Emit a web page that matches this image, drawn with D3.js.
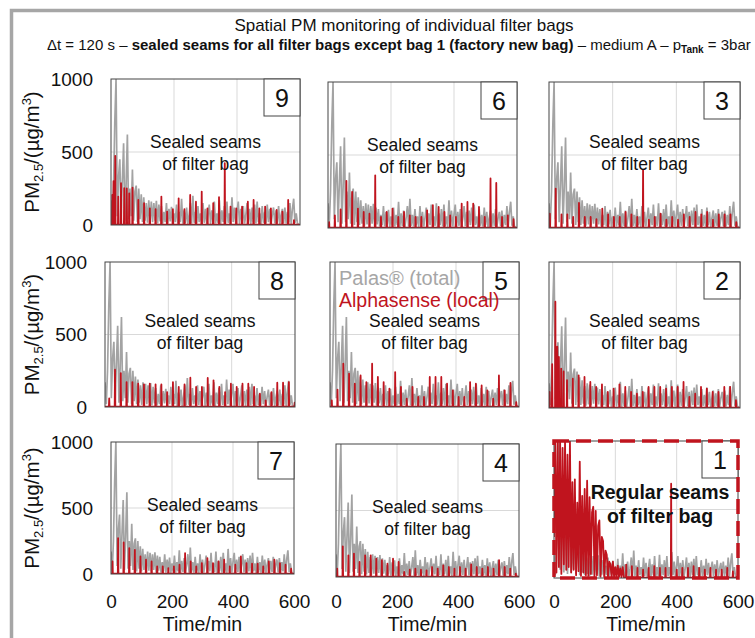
<!DOCTYPE html>
<html lang="en">
<head>
<meta charset="utf-8">
<title>Spatial PM monitoring of individual filter bags</title>
<script src="https://cdn.jsdelivr.net/npm/d3@7"></script>
<style>
  body { margin: 0; background: #fff; }
  svg { font-family: "Liberation Sans", Arial, sans-serif; }
</style>
</head>
<body>
<script>

// Palas (total) PM2.5 in µg/m³, one value every 4 min from t = 0 (same sensor for all panels)
var palasStep = 4;
var palas = [
  170, 20, 250, 700, 1000, 60, 330, 450, 40, 300,
  560, 30, 280, 620, 40, 250, 60, 380, 30, 230,
  270, 20, 250, 40, 210, 20, 190, 30, 150, 15,
  170, 25, 160, 20, 150, 30, 165, 10, 140, 25,
  130, 10, 90, 20, 150, 10, 110, 25, 125, 8,
  80, 20, 140, 10, 90, 20, 180, 8, 100, 15,
  120, 8, 70, 150, 10, 200, 15, 90, 10, 130,
  20, 80, 8, 150, 15, 110, 10, 70, 140, 8,
  100, 20, 160, 10, 80, 15, 170, 8, 100, 20,
  130, 10, 160, 15, 80, 8, 190, 20, 120, 10,
  90, 160, 8, 110, 15, 130, 10, 70, 150, 12,
  110, 8, 120, 20, 140, 10, 160, 20, 80, 8,
  130, 15, 90, 10, 140, 20, 110, 8, 70, 120,
  10, 100, 15, 130, 8, 70, 110, 12, 120, 10,
  90, 20, 150, 8, 110, 180, 15, 80, 10, 5
];

// panels, row by row, and the bag each one shows
var bags = [9, 6, 3, 8, 5, 2, 7, 4, 1];

// Alphasense (local): pulse peaks of each bag, one pulse every 18.3 min
var pulsePeriod = 18.3;
var firstPulse = [13.5, 3.5, 2.7, 13.3, 5.6, 1.7, 5, 4, 235.6];
var peaks9 = [474, 286, 250, 256, 172, 149, 114, 108, 195, 92, 108, 183, 108, 206, 160, 229, 114, 149, 190, 423, 126, 114, 126, 160, 172, 114, 126, 114, 103, 92, 172, 34];
var peaks6 = [40, 87, 128, 323, 247, 133, 110, 98, 361, 76, 110, 133, 76, 110, 87, 76, 76, 121, 156, 144, 110, 87, 76, 167, 178, 167, 144, 76, 339, 309, 76, 87, 60];
var peaks3 = [98, 270, 94, 94, 76, 172, 76, 76, 60, 133, 94, 76, 76, 110, 94, 76, 400, 57, 76, 98, 57, 76, 57, 94, 76, 110, 94, 110, 57, 94, 94, 94, 40];
var peaks8 = [60, 257, 234, 172, 172, 161, 156, 161, 156, 156, 103, 172, 138, 156, 202, 138, 138, 200, 184, 138, 103, 161, 138, 161, 161, 138, 92, 46, 103, 168, 168, 172, 30];
var peaks5 = [46, 120, 299, 230, 161, 218, 172, 299, 207, 172, 126, 241, 138, 57, 138, 69, 69, 207, 207, 207, 161, 115, 69, 69, 172, 161, 149, 115, 57, 218, 115, 166, 34];
var peaks2 = [110, 728, 270, 190, 201, 224, 213, 178, 144, 162, 110, 133, 162, 144, 110, 98, 110, 144, 144, 144, 133, 144, 144, 178, 76, 98, 144, 133, 110, 110, 144, 144, 53];
var peaks7 = [95, 271, 239, 196, 183, 133, 108, 95, 58, 58, 45, 58, 70, 158, 95, 58, 83, 121, 83, 95, 108, 58, 70, 133, 83, 78, 78, 58, 95, 108, 83, 70, 40];
var peaks4 = [63, 231, 163, 176, 113, 163, 163, 138, 126, 100, 138, 113, 38, 55, 63, 55, 50, 75, 63, 88, 75, 63, 75, 63, 95, 75, 63, 75, 63, 126, 75, 63, 25];
var peaks1 = [98, 86, 74, 61, 74, 86, 74, 74, 688, 61, 74, 74, 86, 74, 61, 74, 61, 61, 74, 49];

// extra early peaks seen between the regular pulses, [min, µg/m³]
var extra9 = [[4, 206], [8, 300], [23, 195], [42, 252], [58, 217]];
var extra2 = [[10, 300], [26, 420], [31, 350], [46, 250]];

// bag 1 (regular seams): dense first part, one value every 4 min from t = 0
var bag1Early = [
  300, 1000, 40, 1000, 80, 1000, 30, 950, 100, 1000,
  60, 900, 80, 1000, 40, 700, 60, 720, 20, 550,
  50, 850, 15, 600, 40, 650, 20, 710, 15, 590,
  30, 480, 520, 10, 490, 20, 380, 420, 10, 300,
  270, 8, 200, 170, 8, 120, 100, 5, 120, 10,
  80, 5, 90, 8, 70, 5, 80, 5
];

var peaksByBag = { 9: peaks9, 6: peaks6, 3: peaks3, 8: peaks8, 5: peaks5, 2: peaks2, 7: peaks7, 4: peaks4, 1: peaks1 };
var extraByBag = { 9: extra9, 2: extra2 };

var xTicks = [0, 200, 400, 600];
var yTicks = [0, 500, 1000];
var xGrid = [200, 400];
var yGrid = [500];

var grey = "#a3a3a3", red = "#c0141e";

// panel boxes [left, right, top, bottom]
var panelBox = [
  [111, 300, 79, 225], [328, 517, 82, 228], [549, 740, 82, 228],
  [105, 295, 262, 407], [330, 519, 262, 407], [549, 740, 262, 408],
  [111, 294, 442, 574], [336, 519, 444, 577], [554, 738, 441, 578]
];

var svg = d3.select("body").append("svg")
  .attr("width", 755)
  .attr("height", 638);

svg.append("rect")
  .attr("x", 11.5).attr("y", 10.5)
  .attr("width", 800).attr("height", 700)
  .attr("fill", "none")
  .attr("stroke", "#a6a6a6")
  .attr("stroke-width", 3.5);

svg.append("text")
  .attr("x", 404).attr("y", 31)
  .attr("text-anchor", "middle")
  .attr("font-size", "17px")
  .attr("fill", "#111")
  .text("Spatial PM monitoring of individual filter bags");

var sub = svg.append("text")
  .attr("x", 47).attr("y", 50)
  .attr("font-size", "15px")
  .attr("fill", "#111");
sub.append("tspan").text("\u0394t = 120 s \u2013 ");
sub.append("tspan").attr("font-weight", "bold").text("sealed seams for all filter bags except bag 1 (factory new bag)");
sub.append("tspan").text(" \u2013 medium A \u2013 p");
sub.append("tspan").attr("font-size", "10px").attr("font-weight", "bold").attr("dy", 3).text("Tank");
sub.append("tspan").attr("dy", -3).text(" = 3bar");

bags.forEach(function(bag, i) {
  var b = panelBox[i];
  var col = i % 3, row = Math.floor(i / 3);
  var x = d3.scaleLinear().domain([0, 600]).range([b[0], b[1]]);
  var y = d3.scaleLinear().domain([0, 1000]).range([b[3], b[2]]);
  var g = svg.append("g");

  g.append("clipPath").attr("id", "clip" + bag)
    .append("rect")
    .attr("x", b[0]).attr("y", b[2])
    .attr("width", b[1] - b[0]).attr("height", b[3] - b[2]);

  // grid
  g.selectAll(".vg").data(xGrid).enter().append("line")
    .attr("x1", function(d) { return x(d); })
    .attr("x2", function(d) { return x(d); })
    .attr("y1", b[2]).attr("y2", b[3])
    .attr("stroke", "#d9d9d9").attr("stroke-width", 1);
  g.selectAll(".hg").data(yGrid).enter().append("line")
    .attr("x1", b[0]).attr("x2", b[1])
    .attr("y1", function(d) { return y(d); })
    .attr("y2", function(d) { return y(d); })
    .attr("stroke", "#d9d9d9").attr("stroke-width", 1);

  var line = d3.line()
    .x(function(d) { return x(d[0]); })
    .y(function(d) { return y(d[1]); });

  var data = g.append("g").attr("clip-path", "url(#clip" + bag + ")");

  var palasPts = palas.map(function(v, k) { return [k * palasStep, v]; });
  data.append("path")
    .attr("d", line(palasPts))
    .attr("fill", "none")
    .attr("stroke", grey)
    .attr("stroke-width", 1.7);

  // Alphasense spikes: regular pulses plus the extra early ones
  var spikes = peaksByBag[bag].map(function(v, j) {
    return [firstPulse[i] + j * pulsePeriod, v];
  });
  if (extraByBag[bag]) spikes = spikes.concat(extraByBag[bag]);
  spikes.sort(function(a, c) { return a[0] - c[0]; });

  var base = 3;
  var redPts = [];
  if (bag === 1) {
    bag1Early.forEach(function(v, k) { redPts.push([k * palasStep, v]); });
  } else {
    redPts.push([0, base]);
  }
  spikes.forEach(function(s) {
    redPts.push([s[0] - 1, base], [s[0], s[1]], [s[0] + 1, base]);
  });
  redPts.push([600, base]);
  data.append("path")
    .attr("d", line(redPts))
    .attr("fill", "none")
    .attr("stroke", red)
    .attr("stroke-width", 1.8)
    .attr("stroke-linejoin", "round");

  // panel frame
  g.append("rect")
    .attr("x", b[0]).attr("y", b[2])
    .attr("width", b[1] - b[0]).attr("height", b[3] - b[2])
    .attr("fill", "none")
    .attr("stroke", "#444").attr("stroke-width", 1);

  // bag number box
  g.append("rect")
    .attr("x", b[1] - 36).attr("y", b[2])
    .attr("width", 36).attr("height", 37)
    .attr("fill", "#fff")
    .attr("stroke", "#444").attr("stroke-width", 1);
  g.append("text")
    .attr("x", b[1] - 18).attr("y", b[2] + 27.5)
    .attr("text-anchor", "middle")
    .attr("font-size", "25px")
    .attr("fill", "#111")
    .text(bag);

  var cx = (b[0] + b[1]) / 2;
  var note = g.append("text")
    .attr("text-anchor", "middle")
    .attr("fill", "#111");
  if (bag === 1) {
    note.attr("font-weight", "bold").attr("font-size", "19.5px");
    note.append("tspan").attr("x", 660).attr("y", 499).text("Regular seams");
    note.append("tspan").attr("x", 660).attr("y", 523).text("of filter bag");
  } else {
    note.attr("font-size", "17.5px");
    var ny = b[2] + (row === 1 ? 65 : 69);
    if (bag === 3) ny = b[2] + 66;
    note.append("tspan").attr("x", cx).attr("y", ny).text("Sealed seams");
    note.append("tspan").attr("x", cx).attr("y", ny + 22).text("of filter bag");
  }

  if (bag === 5) {
    g.append("text").attr("x", 339).attr("y", 285)
      .attr("font-size", "20px").attr("fill", "#a6a6a6")
      .text("Palas\u00ae (total)");
    g.append("text").attr("x", 339).attr("y", 307)
      .attr("font-size", "19.5px").attr("fill", red)
      .text("Alphasense (local)");
  }

  if (bag === 1) {
    g.append("rect")
      .attr("x", b[0]).attr("y", b[2])
      .attr("width", b[1] - b[0]).attr("height", b[3] - b[2])
      .attr("fill", "none")
      .attr("stroke", red).attr("stroke-width", 3.5)
      .attr("stroke-dasharray", "15,7");
  }

  if (col === 0) {
    var ya = g.append("g")
      .attr("transform", "translate(" + b[0] + ",0)")
      .call(d3.axisLeft(y).tickValues(yTicks).tickFormat(d3.format("d")).tickSize(0).tickPadding(18));
    ya.select(".domain").remove();
    ya.selectAll("text").attr("font-size", "19px").attr("fill", "#111").attr("font-family", null);

    var yl = g.append("text")
      .attr("transform", "translate(39," + (b[2] + b[3]) / 2 + ") rotate(-90)")
      .attr("text-anchor", "middle")
      .attr("font-size", "20.5px")
      .attr("fill", "#111");
    yl.append("tspan").text("PM");
    yl.append("tspan").attr("font-size", "13px").attr("dy", 4).text("2.5");
    yl.append("tspan").attr("dy", -4).text("/(\u00b5g/m");
    yl.append("tspan").attr("font-size", "13px").attr("dy", -8).text("3");
    yl.append("tspan").attr("dy", 8).text(")");
  }

  if (row === 2) {
    var xa = g.append("g")
      .attr("transform", "translate(0,587)")
      .call(d3.axisBottom(x).tickValues(xTicks).tickSize(0).tickPadding(8));
    xa.select(".domain").remove();
    xa.selectAll("text").attr("font-size", "19px").attr("fill", "#111").attr("font-family", null);

    g.append("text")
      .attr("x", (b[0] + b[1]) / 2).attr("y", 631)
      .attr("text-anchor", "middle")
      .attr("font-size", "19.5px")
      .attr("fill", "#111")
      .text("Time/min");
  }
});

</script>
</body>
</html>
